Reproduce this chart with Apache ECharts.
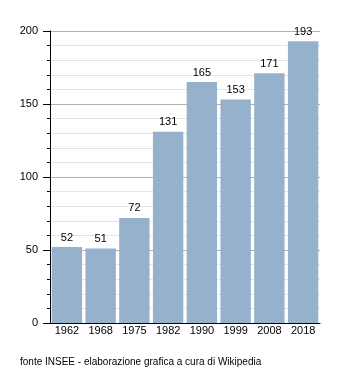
<!DOCTYPE html>
<html>
<head>
<meta charset="utf-8">
<script src="https://cdn.jsdelivr.net/npm/echarts@6/dist/echarts.min.js"></script>
<style>
  html, body { margin: 0; padding: 0; background: #fff; }
  #chart { width: 350px; height: 373px; }
</style>
</head>
<body>
<div id="chart"></div>
<script>
// Population by census year
const years = ['1962', '1968', '1975', '1982', '1990', '1999', '2008', '2018'];
const population = [52, 51, 72, 131, 165, 153, 171, 193];
const sourceNote = 'fonte INSEE - elaborazione grafica a cura di Wikipedia';

const font = 'Liberation Sans, Arial, sans-serif';
const chart = echarts.init(document.getElementById('chart'), null, { renderer: 'canvas' });

chart.setOption({
  animation: false,
  grid: { left: 50, right: 30, top: 31, bottom: 50, containLabel: false },
  xAxis: {
    type: 'category',
    data: years,
    axisLine: { lineStyle: { color: '#000', width: 1 } },
    axisTick: { show: false },
    axisLabel: { color: '#000', fontSize: 11, fontFamily: font, margin: 2 }
  },
  yAxis: {
    type: 'value',
    min: 0,
    max: 200,
    interval: 50,
    axisLine: { show: true, lineStyle: { color: '#000', width: 1 } },
    axisTick: { show: true, length: 7, lineStyle: { color: '#000' } },
    minorTick: { show: true, splitNumber: 5, length: 3, lineStyle: { color: '#000' } },
    axisLabel: { color: '#000', fontSize: 11, fontFamily: font, margin: 12 },
    splitLine: { show: true, lineStyle: { color: '#b0b0b0', width: 1 } },
    minorSplitLine: { show: true, lineStyle: { color: '#e4e4e4', width: 1 } }
  },
  series: [{
    type: 'bar',
    data: population,
    barCategoryGap: '10%',
    itemStyle: { color: '#96b1cb' },
    label: {
      show: true,
      position: 'top',
      distance: 4,
      color: '#000',
      fontSize: 11,
      fontFamily: font
    }
  }],
  graphic: [{
    type: 'text',
    left: 20,
    top: 357,
    style: { text: sourceNote, fill: '#000', font: '10px ' + font }
  }]
});
</script>
</body>
</html>
